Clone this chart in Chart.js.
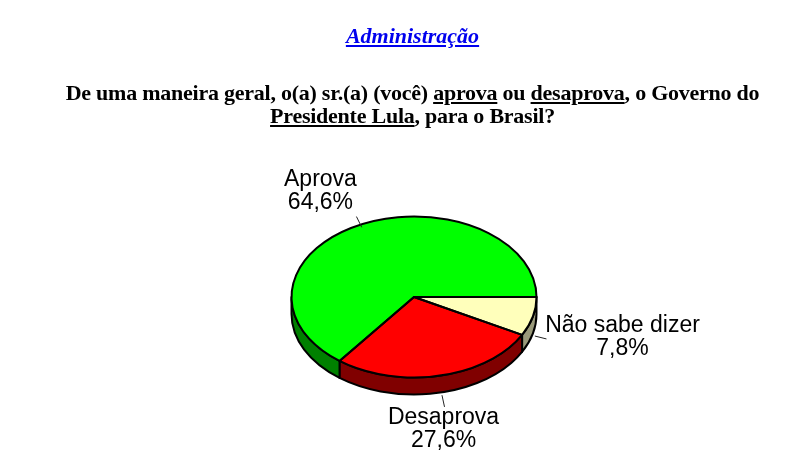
<!DOCTYPE html>
<html lang="pt">
<head>
<meta charset="utf-8">
<script src="https://cdn.jsdelivr.net/npm/chart.js@4"></script>
<style>
html,body{margin:0;padding:0;background:#fff;width:810px;height:470px;overflow:hidden}
#wrap{position:relative;width:810px;height:470px}
canvas{position:absolute;left:0;top:0}
.t{position:absolute;white-space:nowrap;font-family:"Liberation Serif",serif;font-weight:bold;color:#000;transform:translateX(-50%)}
#head{left:412.5px;top:23px;font-size:22px;font-style:italic;color:#0000ee;text-decoration:underline}
.q{font-size:22px;letter-spacing:-.24px}
#q1{left:412.5px;top:80px}
#q2{left:412.5px;top:103px}
</style>
</head>
<body>
<div id="wrap">
<canvas id="c" width="810" height="470"></canvas>
<div class="t" id="head">Administração</div>
<div class="t q" id="q1">De uma maneira geral, o(a) sr.(a) (você) <u>aprova</u> ou <u>desaprova</u>, o Governo do</div>
<div class="t q" id="q2"><u>Presidente Lula</u>, para o Brasil?</div>
</div>
<script>
const categories = ["Não sabe dizer", "Desaprova", "Aprova"];
const shares = [7.8, 27.6, 64.6];
const shareLabels = ["7,8%", "27,6%", "64,6%"];
const topColors = ["#FFFFBB", "#FF0000", "#00FF00"];
const sideColors = ["#99997A", "#800000", "#008000"];

const RX = 122.5, RY = 80.5, DEPTH = 17;
// label centre relative to the leader's outer end
const labelOffsets = [[76, -13.5], [-1, 10.5], [-36, -36.5]];
const leaderShift = [2, 2.5];

const tilt3d = {
  id: "tilt3d",
  beforeDatasetsDraw(chart) {
    const ctx = chart.ctx, arcs = chart.getDatasetMeta(0).data;
    const cx = arcs[0].x, cy = arcs[0].y;
    ctx.save();
    ctx.lineWidth = 2; ctx.strokeStyle = "#000"; ctx.lineJoin = "round";
    arcs.forEach((a, i) => {
      if (a.startAngle >= Math.PI) return;
      const from = Math.max(a.startAngle, 0);
      const to = Math.min(a.endAngle, Math.PI);
      ctx.beginPath();
      ctx.ellipse(cx, cy, RX, RY, 0, from, to);
      ctx.ellipse(cx, cy + DEPTH, RX, RY, 0, to, from, true);
      ctx.closePath();
      ctx.fillStyle = sideColors[i];
      ctx.fill(); ctx.stroke();
    });
    ctx.restore();
    ctx.save();
    ctx.translate(cx, cy); ctx.scale(1, RY / RX); ctx.translate(-cx, -cy);
  },
  afterDatasetsDraw(chart) {
    const ctx = chart.ctx, arcs = chart.getDatasetMeta(0).data;
    ctx.restore();
    const cx = arcs[0].x, cy = arcs[0].y;
    ctx.save();
    ctx.lineWidth = 2; ctx.strokeStyle = "#000"; ctx.lineJoin = "round";
    arcs.forEach(a => {
      ctx.beginPath();
      ctx.moveTo(cx, cy);
      ctx.ellipse(cx, cy, RX, RY, 0, a.startAngle, a.endAngle);
      ctx.closePath();
      ctx.stroke();
    });
    // leaders and labels
    ctx.textAlign = "center"; ctx.textBaseline = "middle";
    ctx.font = '23px "Liberation Sans", Arial, sans-serif';
    arcs.forEach((a, i) => {
      const m = (a.startAngle + a.endAngle) / 2;
      const c = Math.cos(m), s = Math.sin(m);
      const low = s > 0 ? DEPTH : 0;
      const px = cx + RX * c + leaderShift[0], py = cy + RY * s + low + leaderShift[1];
      const qx = px + 12 * c, qy = py + 12 * s;
      ctx.lineWidth = 1; ctx.strokeStyle = "#222";
      ctx.beginPath(); ctx.moveTo(px, py); ctx.lineTo(qx, qy); ctx.stroke();
      const lx = qx + labelOffsets[i][0], ly = qy + labelOffsets[i][1];
      ctx.fillStyle = "#000";
      ctx.fillText(categories[i], lx, ly);
      ctx.fillText(shareLabels[i], lx, ly + 23);
    });
    ctx.restore();
  }
};

new Chart(document.getElementById("c"), {
  type: "pie",
  data: {
    labels: categories,
    datasets: [{
      data: shares,
      backgroundColor: topColors,
      borderWidth: 0,
      radius: RX
    }]
  },
  options: {
    responsive: false,
    animation: false,
    rotation: 90,
    layout: { padding: { left: 18, top: 124, right: 0, bottom: 0 } },
    plugins: { legend: { display: false }, tooltip: { enabled: false }, title: { display: false } }
  },
  plugins: [tilt3d]
});
</script>
</body>
</html>
